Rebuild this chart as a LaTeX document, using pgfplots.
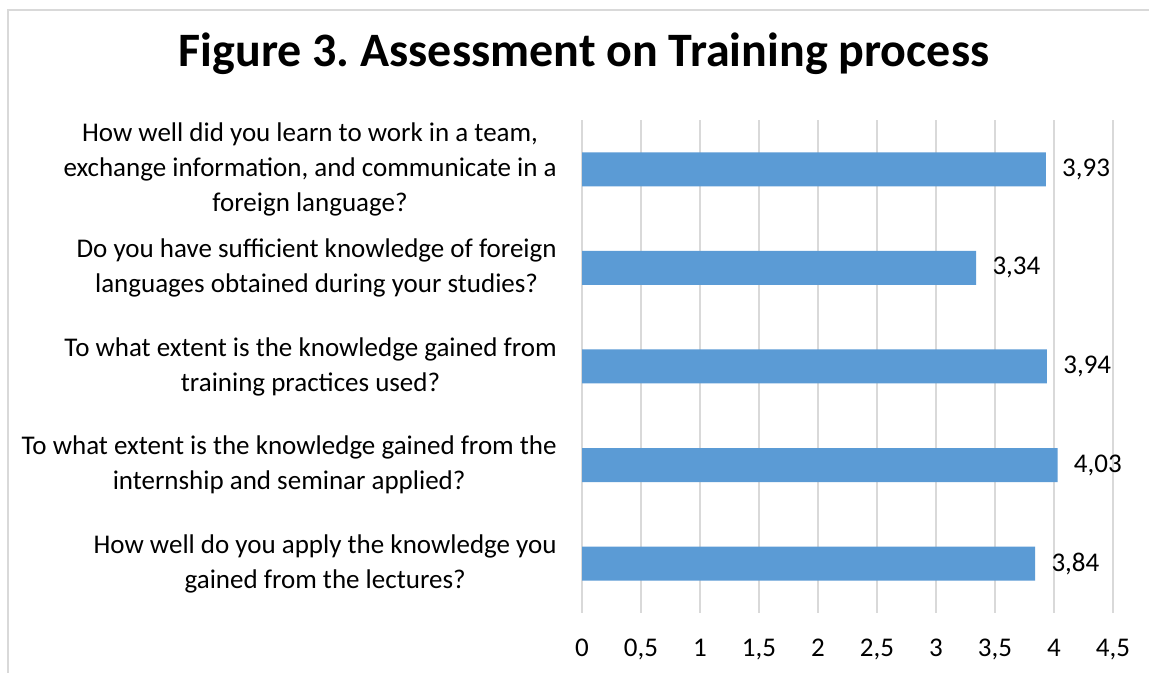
\documentclass[border=0pt]{standalone}
\usepackage{fontspec}
\setmainfont{Carlito}
\usepackage{pgfplots}
\pgfplotsset{compat=1.18}
\definecolor{barblue}{HTML}{5B9BD5}
\definecolor{gridgray}{HTML}{D9D9D9}
\definecolor{framegray}{HTML}{D9D9D9}
\frenchspacing

\begin{document}
\begin{tikzpicture}[x=0.5pt,y=0.5pt]
% page = reference pixels, 1px = 0.5pt, origin bottom left
\useasboundingbox (0,0) rectangle (1149,673);
\clip (0,0) rectangle (1149,673);
\fill[white] (0,0) rectangle (1149,673);
\draw[framegray, line width=0.75pt] (8,-20) -- (8,663) -- (1200,663);

\node[font=\fontsize{24}{28}\selectfont\bfseries] at (584,619) {Figure 3. Assessment on Training process};

\begin{axis}[
    at={(291pt,30pt)}, anchor=south west,
    scale only axis, width=265.5pt, height=246.5pt,
    xbar, bar width=17pt,
    xmin=0, xmax=4.5, ymin=0.5, ymax=5.5,
    xtick={0,0.5,1,1.5,2,2.5,3,3.5,4,4.5},
    ytick={1,2,3,4,5},
    yticklabels={
        {How well do you apply the knowledge you\\gained from the lectures?},
        {To what extent is the knowledge gained from the\\internship and seminar applied?},
        {To what extent is the knowledge gained from\\training practices used?},
        {Do you have sufficient knowledge of foreign\\languages obtained during your studies?},
        {How well did you learn to work in a team,\\exchange information, and communicate in a\\foreign language?}},
    axis line style={draw=none},
    major tick length=0pt,
    xmajorgrids, grid style={gridgray, line width=0.8pt},
    /pgf/number format/use comma,
    /pgf/number format/assume math mode=true,
    xticklabel style={font=\fontsize{13.5}{17.5}\selectfont, anchor=base, yshift=-22pt},
    yticklabel style={font=\fontsize{13.5}{17.5}\selectfont, align=center, anchor=east, inner sep=0pt, xshift=-12.5pt},
    point meta=x,
    nodes near coords={\pgfmathprintnumber[fixed,fixed zerofill,precision=2,use comma,assume math mode=true]{\pgfplotspointmeta}},
    nodes near coords style={font=\fontsize{13.5}{17.5}\selectfont, anchor=west, inner sep=0pt, xshift=8pt},
]
\addplot[fill=barblue, draw=none] coordinates {(3.84,1) (4.03,2) (3.94,3) (3.34,4) (3.93,5)};
\end{axis}
\end{tikzpicture}
\end{document}
